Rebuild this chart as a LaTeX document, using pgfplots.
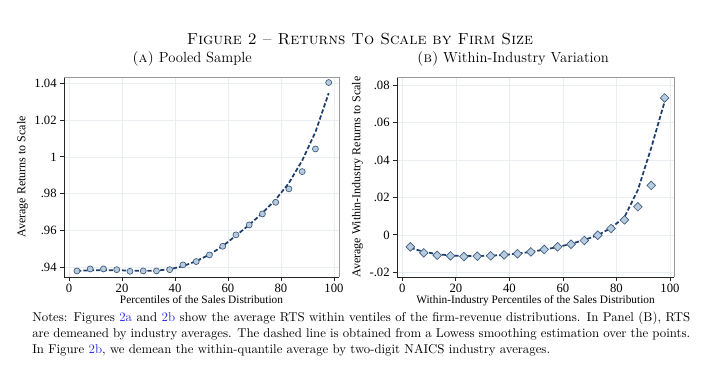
\documentclass[border=0pt]{standalone}
\usepackage{fontspec}
\newfontfamily\tms{Liberation Serif}
\usepackage{xcolor}
\usepackage{pgfplots}
\pgfplotsset{compat=1.18}
\definecolor{navy}{HTML}{1F3D6B}
\definecolor{mfill}{HTML}{B8CBDD}
\definecolor{medge}{HTML}{3A5A80}
\definecolor{gridc}{HTML}{E8EEF1}
\definecolor{framec}{HTML}{9A9A9A}
\definecolor{linkb}{HTML}{3030E8}

\pgfplotstableread{
x y
3 0.9380
8 0.9391
13 0.9391
18 0.9387
23 0.9378
28 0.9380
33 0.9380
38 0.9387
43 0.9413
48 0.9431
53 0.9467
58 0.9514
63 0.9576
68 0.9630
73 0.9690
78 0.9753
83 0.9826
88 0.9920
93 1.0043
98 1.0404
}\pooled

\pgfplotstableread{
x y
3 0.9381
8 0.9383
13 0.9384
18 0.9384
23 0.9382
28 0.9381
33 0.9382
38 0.9389
43 0.9406
48 0.9433
53 0.9469
58 0.9515
63 0.9572
68 0.9630
73 0.9695
78 0.9768
83 0.9858
88 0.9980
93 1.0135
98 1.0346
}\pooledlowess

\pgfplotstableread{
x y
3 -0.0064
8 -0.0096
13 -0.0109
18 -0.0112
23 -0.0116
28 -0.0114
33 -0.0112
38 -0.0107
43 -0.0101
48 -0.0091
53 -0.0078
58 -0.0064
63 -0.0050
68 -0.0030
73 -0.0002
78 0.0034
83 0.0080
88 0.0150
93 0.0264
98 0.0731
}\within

\pgfplotstableread{
x y
3 -0.0070
8 -0.0090
13 -0.0103
18 -0.0110
23 -0.0113
28 -0.0113
33 -0.0111
38 -0.0107
43 -0.0100
48 -0.0091
53 -0.0079
58 -0.0065
63 -0.0048
68 -0.0027
73 -0.0002
78 0.0037
83 0.0095
88 0.0240
93 0.0465
98 0.0712
}\withinlowess

\pgfplotsset{
  rts/.style={
    scale only axis, height=150pt,
    axis x line*=bottom, axis y line*=left,
    axis line style={draw=black!85, line width=0.6pt},
    tick align=outside, major tick length=3pt,
    tick style={black!85, line width=0.6pt},
    grid=major, major grid style={gridc, line width=0.5pt},
    xtick={0,20,...,100},
    scaled y ticks=false, scaled x ticks=false,
    tick label style={font=\tms\fontsize{9.5}{10}\selectfont},
    xlabel style={font=\tms\fontsize{8.5}{10}\selectfont, yshift=5pt},
    ylabel style={font=\tms\fontsize{9}{10}\selectfont, yshift=-2pt},
    /pgf/number format/assume math mode=true,
    xticklabel style={yshift=1pt},
    yticklabel style={xshift=1pt},
    clip=false,
  },
  lowess/.style={navy, line width=1.3pt, dash pattern=on 3.2pt off 1.6pt, no marks},
}

\begin{document}
\begin{tikzpicture}
\path[use as bounding box] (0,0) rectangle (540pt,-276pt);

\node[font=\fontsize{12}{14}\selectfont\scshape] at (270pt,-29.5pt) {Figure 2 -- Returns To Scale by Firm Size};
\node[font=\fontsize{11}{13}\selectfont] at (144pt,-44pt) {\textsc{(a)} Pooled Sample};
\node[font=\fontsize{11}{13}\selectfont] at (384.75pt,-44pt) {\textsc{(b)} Within-Industry Variation};

\begin{axis}[rts, width=206.25pt, at={(48pt,-207.75pt)}, anchor=south west,
  xmin=-1.9, xmax=101.9, ymin=0.9347, ymax=1.0434,
  ytick={0.94,0.96,0.98,1,1.02,1.04},
  yticklabels={.94,.96,.98,1,1.02,1.04},
  xlabel={Percentiles of the Sales Distribution},
  ylabel={Average Returns to Scale}]
  \draw[framec, line width=0.5pt] (rel axis cs:0,1) -- (rel axis cs:1,1) -- (rel axis cs:1,0);
  \addplot[lowess] table[x=x,y=y] {\pooledlowess};
  \addplot[only marks, mark=*, mark size=2.25pt, mark options={fill=mfill, draw=medge, line width=0.5pt}] table[x=x,y=y] {\pooled};
\end{axis}

\begin{axis}[rts, width=207.75pt, at={(297.75pt,-207.75pt)}, anchor=south west,
  xmin=-2, xmax=101.5, ymin=-0.0225, ymax=0.0843,
  ytick={-0.02,0,0.02,0.04,0.06,0.08},
  yticklabels={-.02,0,.02,.04,.06,.08},
  xlabel={Within-Industry Percentiles of the Sales Distribution},
  ylabel={Average Within-Industry Returns to Scale}]
  \draw[framec, line width=0.5pt] (rel axis cs:0,1) -- (rel axis cs:1,1) -- (rel axis cs:1,0);
  \addplot[lowess] table[x=x,y=y] {\withinlowess};
  \addplot[only marks, mark=square*, mark size=2.3pt, mark options={rotate=45, fill=mfill, draw=medge, line width=0.5pt}] table[x=x,y=y] {\within};
\end{axis}

\node[anchor=north west, inner sep=0pt, text width=493.5pt, align=justify,
  font=\fontsize{9.6}{12}\selectfont] at (24pt,-234pt)
  {Notes: Figures \textcolor{linkb}{2a} and \textcolor{linkb}{2b} show the average RTS within ventiles of the firm-revenue distributions. In Panel (B), RTS\linebreak are demeaned by industry averages. The dashed line is obtained from a Lowess smoothing estimation over the points.\linebreak In Figure \textcolor{linkb}{2b}, we demean the within-quantile average by two-digit NAICS industry averages.};
\end{tikzpicture}
\end{document}
